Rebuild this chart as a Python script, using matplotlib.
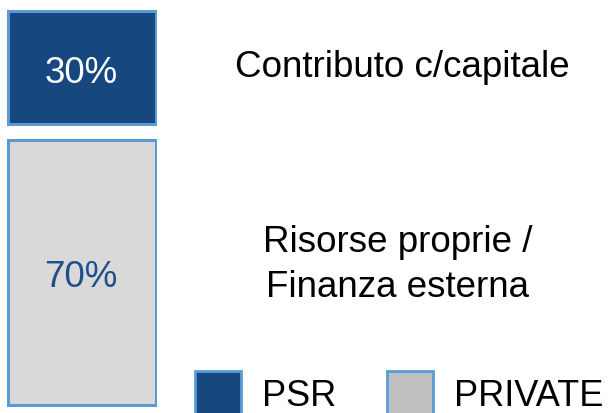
import matplotlib.pyplot as plt
from matplotlib.patches import Rectangle

plt.rcParams['font.family'] = ['Liberation Sans', 'DejaVu Sans']

# data (bottom to top)
shares = [70, 30]
share_labels = ['70%', '30%']
descriptions = ['Risorse proprie /\nFinanza esterna', 'Contributo c/capitale']
legend_names = ['PSR', 'PRIVATE']

dark_blue = '#17477F'
edge_blue = '#5B9BD5'
bar_gray = '#D9D9D9'
swatch_gray = '#BFBFBF'
fills = [bar_gray, dark_blue]
text_colors = ['#1F4E8C', 'white']

W, H = 609, 414
fig = plt.figure(figsize=(W / 100, H / 100), dpi=100)

# layout in pixels from the top (baseline of the last line)
desc_baseline_px = [297, 77]
desc_x_px = [398, 402]

gap = 4
ax = fig.add_axes([7 / W, 0, 150 / W, 1])
ax.set_xlim(0, 1)
ax.set_ylim(-2.1, 107.1)
ax.axis('off')

bottom = 0
for i, (val, lab, fc, tc, desc) in enumerate(zip(shares, share_labels, fills, text_colors, descriptions)):
    ax.bar(0.5, val, width=0.985, bottom=bottom, color=fc, edgecolor=edge_blue, linewidth=2.2)
    mid = bottom + val / 2
    y_fig = ax.transData.transform((0, mid))[1] / H - 14 / H
    fig.text(81 / W, y_fig, lab, ha='center', va='baseline', fontsize=26.5, color=tc)
    fig.text(desc_x_px[i] / W, 1 - desc_baseline_px[i] / H, desc, ha='center', va='baseline',
             fontsize=26.5, color='black', linespacing=1.36)
    bottom += val + gap

# legend
swatches = [(195, dark_blue), (387, swatch_gray)]
for (x0, fc), name in zip(swatches, legend_names):
    fig.add_artist(Rectangle((x0 / W, -0.02), 46 / W, (42 / H) + 0.02,
                             transform=fig.transFigure, facecolor=fc,
                             edgecolor=edge_blue, linewidth=2))
    fig.text((x0 + 67) / W, 8 / H, name, ha='left', va='baseline',
             fontsize=26, color='black')

fig.savefig('out.png', dpi=100)
